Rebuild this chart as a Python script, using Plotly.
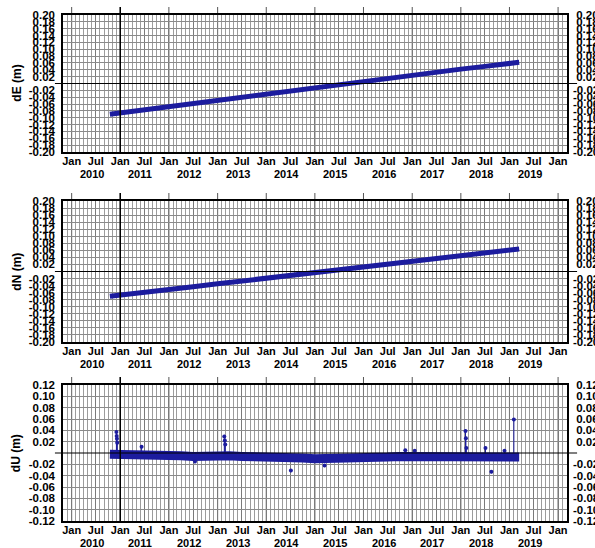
import plotly.graph_objects as go

# ---- East component (m) ----
de_dates = ["2010-10-15", "2011-01-01", "2011-07-01", "2012-01-01", "2012-07-01",
            "2013-01-01", "2013-07-01", "2014-01-01", "2014-07-01", "2015-01-01",
            "2015-07-01", "2015-10-01", "2016-01-01", "2016-07-01", "2017-01-01",
            "2017-07-01", "2018-01-01", "2018-07-01", "2019-01-01", "2019-03-15"]
de_vals = [-0.090, -0.086, -0.077, -0.068, -0.059,
           -0.050, -0.041, -0.032, -0.023, -0.014,
           -0.005, 0.001, 0.006, 0.015, 0.024,
           0.033, 0.042, 0.050, 0.058, 0.062]

# ---- North component (m) ----
dn_dates = de_dates
dn_vals = [-0.070, -0.067, -0.059, -0.051, -0.043,
           -0.035, -0.027, -0.019, -0.011, -0.003,
           0.005, 0.009, 0.013, 0.021, 0.029,
           0.037, 0.045, 0.053, 0.061, 0.064]

# ---- Up component (m) ----
du_dates = ["2010-10-15", "2011-01-01", "2011-04-01", "2011-07-01", "2011-10-01",
            "2012-01-01", "2012-04-01", "2012-07-01", "2012-10-01", "2013-01-01",
            "2013-04-01", "2013-07-01", "2013-10-01", "2014-01-01", "2014-04-01",
            "2014-07-01", "2014-10-01", "2015-01-01", "2015-04-01", "2015-07-01",
            "2015-10-01", "2016-01-01", "2016-04-01", "2016-07-01", "2016-10-01",
            "2017-01-01", "2017-04-01", "2017-07-01", "2017-10-01", "2018-01-01",
            "2018-04-01", "2018-07-01", "2018-10-01", "2019-01-01", "2019-03-15"]
du_vals = [-0.002, -0.003, -0.002, -0.003, -0.004,
           -0.004, -0.005, -0.006, -0.005, -0.004,
           -0.005, -0.006, -0.006, -0.007, -0.007,
           -0.008, -0.009, -0.010, -0.010, -0.009,
           -0.010, -0.009, -0.008, -0.007, -0.006,
           -0.006, -0.005, -0.005, -0.006, -0.006,
           -0.006, -0.006, -0.006, -0.006, -0.007]

# isolated Up solutions with their error bars
du_out_dates = ["2010-12-03", "2010-12-05", "2010-12-07", "2010-12-09",
                "2011-06-10", "2012-07-15", "2013-02-20", "2013-02-24", "2013-02-27",
                "2014-07-05", "2015-03-15", "2016-11-10", "2017-01-20",
                "2018-02-05", "2018-02-08", "2018-02-11", "2018-07-05",
                "2018-08-18", "2018-11-25", "2019-02-03"]
du_out_vals = [0.037, 0.030, 0.025, 0.018,
               0.011, -0.015, 0.029, 0.022, 0.015,
               -0.031, -0.022, 0.005, 0.004,
               0.039, 0.026, 0.009, 0.009,
               -0.033, 0.004, 0.059]
du_out_err_up = [0.003, 0.003, 0.003, 0.003,
                 0.002, 0.002, 0.003, 0.003, 0.003,
                 0.002, 0.002, 0.002, 0.002,
                 0.002, 0.003, 0.002, 0.002,
                 0.002, 0.002, 0.001]
du_out_err_dn = [0.035, 0.030, 0.025, 0.018,
                 0.012, 0.003, 0.030, 0.024, 0.017,
                 0.003, 0.003, 0.008, 0.008,
                 0.043, 0.030, 0.013, 0.013,
                 0.003, 0.008, 0.064]

# ---- axis annotation lists ----
month_tick_dates = []
month_tick_text = []
for yr in range(2010, 2020):
    month_tick_dates += [f"{yr}-01-01", f"{yr}-07-01"]
    month_tick_text += ["Jan", "Jul"]
month_tick_dates.append("2020-01-01")
month_tick_text.append("Jan")

year_tick_dates = [f"{yr}-01-01" for yr in range(2010, 2021)]
year_labels = [str(yr) for yr in range(2010, 2020)]
year_label_dates = [f"{yr}-06-01" for yr in range(2010, 2020)]

marker_epoch = "2011-01-01"
x_range = ["2009-10-28", "2020-03-08"]

ne_ticks = [round(v * 0.02, 2) for v in range(10, 0, -1)] + [round(-v * 0.02, 2) for v in range(1, 11)]
up_ticks = [round(v * 0.02, 2) for v in range(6, 0, -1)] + [round(-v * 0.02, 2) for v in range(1, 7)]

DATA_COLOR = "#1c1c9e"
FONT = "Liberation Sans, Arial, sans-serif"
W, H = 595, 548
ML, MR = 63, 28

panels = [
    dict(top=15, bottom=152, yr=[-0.20, 0.20], ticks=ne_ticks, title="dE (m)",
         x=de_dates, y=de_vals),
    dict(top=201, bottom=342, yr=[-0.20, 0.20], ticks=ne_ticks, title="dN (m)",
         x=dn_dates, y=dn_vals),
    dict(top=385, bottom=521, yr=[-0.12, 0.12], ticks=up_ticks, title="dU (m)",
         x=du_dates, y=du_vals),
]

fig = go.Figure()

layout = dict(
    width=W, height=H,
    margin=dict(l=ML, r=MR, t=0, b=0),
    paper_bgcolor="white", plot_bgcolor="white",
    font=dict(family=FONT, size=11, color="black", weight="bold"),
    showlegend=False,
)

shapes = []
annotations = []
for i, p in enumerate(panels, start=1):
    sfx = "" if i == 1 else str(i)
    right_ax = 3 + i
    dom = [(H - p["bottom"]) / H, (H - p["top"]) / H]
    tick_text = [f"{v:.2f}" for v in p["ticks"]]
    # right-hand labels are right-aligned: pad positives to the width of the minus
    right_text = [("\u00a0" + t) if v > 0 else t for v, t in zip(p["ticks"], tick_text)]

    # series line
    fig.add_trace(go.Scatter(x=p["x"], y=p["y"], mode="lines",
                             line=dict(color=DATA_COLOR, width=5 if i < 3 else 9),
                             xaxis=f"x{sfx}", yaxis=f"y{sfx}", hoverinfo="skip"))
    # same series bound to the right-hand axis so its labels are drawn
    fig.add_trace(go.Scatter(x=p["x"], y=p["y"], mode="lines", opacity=0,
                             line=dict(color=DATA_COLOR, width=1),
                             xaxis=f"x{sfx}", yaxis=f"y{right_ax}", hoverinfo="skip"))

    layout[f"xaxis{sfx}"] = dict(
        domain=[0, 1], anchor=f"y{sfx}", type="date", range=x_range,
        tickmode="array", tickvals=month_tick_dates, ticktext=month_tick_text,
        ticks="", showline=True, mirror=True, linecolor="black", linewidth=1.5,
        showgrid=True, gridcolor="#7a7a7a", gridwidth=1,
        minor=dict(dtick="M1", tick0="2010-01-01", showgrid=True, gridcolor="#9c9c9c", gridwidth=1),
        zeroline=False, automargin=False, fixedrange=True, ticklabelstandoff=-2,
        tickfont=dict(size=11),
    )
    layout[f"yaxis{sfx}"] = dict(
        domain=dom, anchor=f"x{sfx}", range=p["yr"],
        tickmode="array", tickvals=p["ticks"], ticktext=tick_text,
        ticks="", showline=True, mirror=True, linecolor="black", linewidth=1.5,
        showgrid=True, gridcolor="#8a8a8a", gridwidth=1, zeroline=False,
        automargin=False, fixedrange=True, ticklabelstandoff=4,
        tickfont=dict(size=11.5),
    )
    layout[f"yaxis{right_ax}"] = dict(
        overlaying=f"y{sfx}", anchor=f"x{sfx}", side="right", range=p["yr"],
        tickmode="array", tickvals=p["ticks"], ticktext=right_text,
        ticks="", showgrid=False, showline=False, zeroline=False,
        automargin=False, fixedrange=True, ticklabelstandoff=5,
        tickfont=dict(size=11.5),
    )

    # yearly grid lines, darker, with ticks poking above the frame
    for d in year_tick_dates:
        shapes.append(dict(type="line", xref=f"x{sfx}", yref=f"y{sfx} domain",
                           x0=d, x1=d, y0=0, y1=1.0 + 8.0 / (p["bottom"] - p["top"]),
                           line=dict(color="#555555", width=1), layer="below"))
    # zero line running slightly past the frame
    shapes.append(dict(type="line", xref=f"x{sfx} domain", yref=f"y{sfx}",
                       x0=-0.016, x1=1.02, y0=0, y1=0,
                       line=dict(color="black", width=1.2), layer="above"))
    # epoch marker line
    shapes.append(dict(type="line", xref=f"x{sfx}", yref=f"y{sfx} domain",
                       x0=marker_epoch, x1=marker_epoch,
                       y0=0, y1=1.0 + 8.0 / (p["bottom"] - p["top"]),
                       line=dict(color="black", width=1.5), layer="above"))
    # year labels under the month labels
    for d, t in zip(year_label_dates, year_labels):
        annotations.append(dict(x=d, y=0, xref=f"x{sfx}", yref=f"y{sfx} domain",
                                text=t, showarrow=False, xanchor="center", yanchor="top",
                                yshift=-14, font=dict(size=11)))
    # axis title
    annotations.append(dict(x=-0.093, y=0.5, xref="paper", yref=f"y{sfx} domain",
                            text=p["title"], textangle=-90, showarrow=False,
                            xanchor="center", yanchor="middle", font=dict(size=12)))

# isolated Up solutions
fig.add_trace(go.Scatter(x=du_out_dates, y=du_out_vals, mode="markers",
                         marker=dict(color=DATA_COLOR, size=4),
                         error_y=dict(type="data", array=du_out_err_up, arrayminus=du_out_err_dn,
                                      symmetric=False, color=DATA_COLOR, thickness=1, width=0),
                         xaxis="x3", yaxis="y3", hoverinfo="skip"))

layout["shapes"] = shapes
layout["annotations"] = annotations
fig.update_layout(**layout)

fig.write_html("out.html")
